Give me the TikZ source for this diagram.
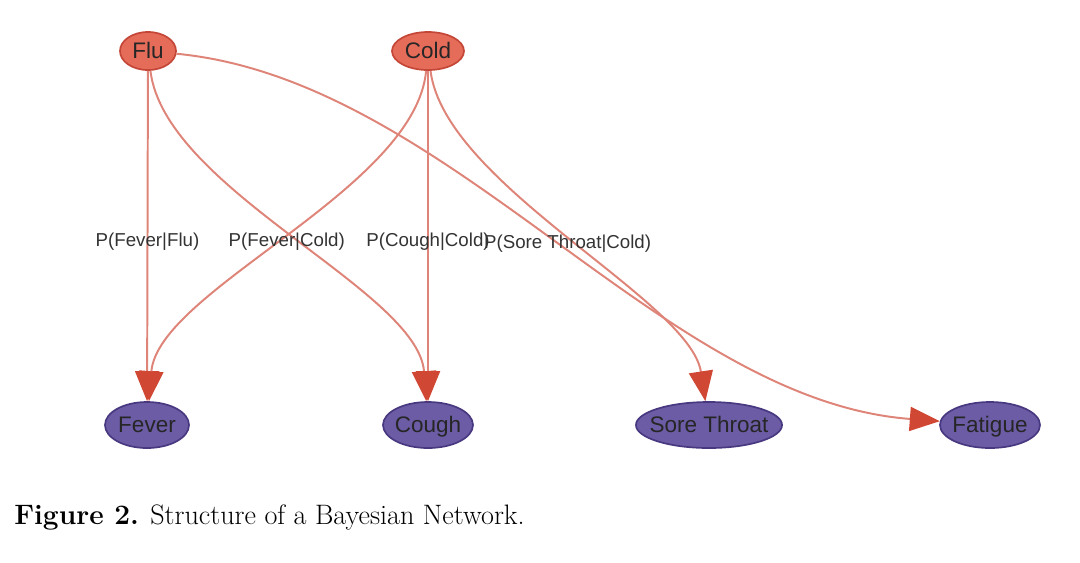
\documentclass[tikz,border=0pt]{standalone}
\usepackage{fontspec}
\newfontfamily\graphfont{Liberation Sans}
\usepackage{xcolor}
\usepackage{tikz}
\usetikzlibrary{shapes.geometric, arrows.meta}
\definecolor{CauseRed}{RGB}{230,108,90}
\definecolor{CauseLine}{RGB}{196,70,55}
\definecolor{SymptomPurple}{RGB}{108,92,165}
\definecolor{SymptomLine}{RGB}{72,56,128}
\definecolor{LinkRed}{RGB}{222,132,120}
\definecolor{TipRed}{RGB}{208,72,52}
\newcommand{\nodetext}[1]{\makebox[0pt]{\smash{#1}\vphantom{C}}}

\begin{document}
\begin{tikzpicture}[x=0.025cm, y=-0.025cm]
      \tikzset{cause/.style={ellipse, draw=CauseLine, fill=CauseRed, line width=1.2pt, inner sep=0pt,
        minimum height=0.95cm, text=black!85, font=\graphfont\fontsize{16}{19}\selectfont},
        symptom/.style={cause, draw=SymptomLine, fill=SymptomPurple, minimum height=1.15cm},
        link/.style={draw=LinkRed, line width=1.4pt, -{Triangle[length=0.75cm, width=0.6cm, color=TipRed]}},
        prob/.style={font=\graphfont\fontsize{13.3}{15}\selectfont, text=black!80, inner sep=0pt, yshift=-2pt}}
      \useasboundingbox (0,0) rectangle (1080,562);
      % causes
      \node[cause, minimum width=1.4cm] (flu) at (148,51) {\nodetext{Flu}};
      \node[cause, minimum width=1.8cm] (cold) at (428,51) {\nodetext{Cold}};
      % symptoms
      \node[symptom, minimum width=2.1cm] (fever) at (147,425) {\nodetext{Fever}};
      \node[symptom, minimum width=2.25cm] (cough) at (428,425) {\nodetext{Cough}};
      \node[symptom, minimum width=3.65cm] (sore) at (709,425) {\nodetext{Sore Throat}};
      \node[symptom, minimum width=2.5cm] (fatigue) at (990,425) {\nodetext{Fatigue}};
      % links
      \draw[link] (flu) -- node[prob, yshift=-2pt] {P(Fever|Flu)} (fever);
      \draw[link] (flu) .. controls (165,190) and (418,290) .. (cough);
      \draw[link] (flu) .. controls (450,80) and (660,400) .. (fatigue);
      \draw[link] (cold) .. controls (415,190) and (158,290) .. node[prob] {P(Fever|Cold)} (fever);
      \draw[link] (cold) -- node[prob, yshift=-2pt] {P(Cough|Cold)} (cough);
      \draw[link] (cold) .. controls (445,185) and (690,300) .. node[prob] {P(Sore Throat|Cold)} (sore);
      % caption
      \node[anchor=west, inner sep=0pt, font=\fontsize{20}{24}\selectfont] (caption) at (14,517)
        {\textbf{Figure 2.} Structure of a Bayesian Network.};
    \end{tikzpicture}
\end{document}
